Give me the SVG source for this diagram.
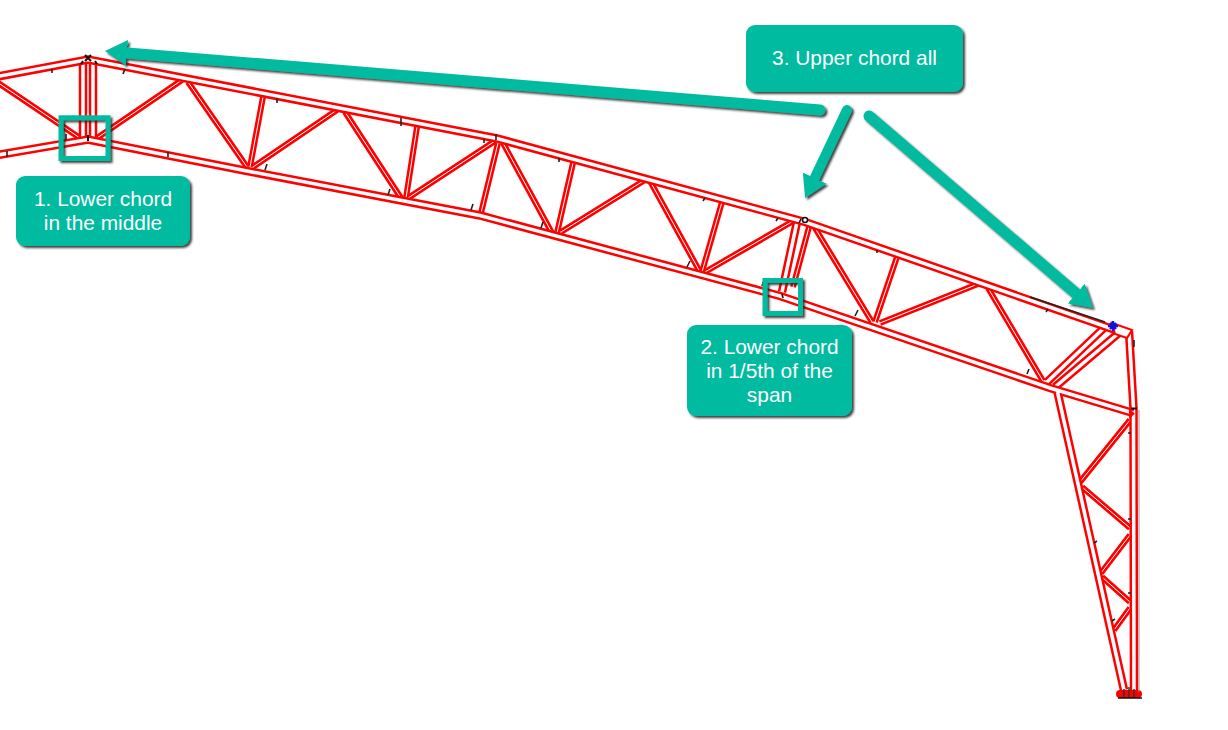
<svg xmlns="http://www.w3.org/2000/svg" xmlns:xlink="http://www.w3.org/1999/xlink" width="1228" height="730" viewBox="0 0 1228 730">
<style>
.box{fill:#00BBA0;filter:url(#sh)}
.lbl{font-family:"Liberation Sans",Arial,sans-serif;font-size:20.900px;fill:#fff;text-anchor:middle}
.frame{fill:none;stroke:#00BBA0;stroke-width:5;filter:url(#sh)}
.arrow{fill:none;stroke:#00BBA0;stroke-width:11;stroke-linecap:round;filter:url(#shl)}
.t{fill:none;stroke:#222;stroke-width:1.600}
</style>
<defs>
<filter id="sh" x="-20%" y="-20%" width="140%" height="140%" filterUnits="objectBoundingBox"><feDropShadow dx="2" dy="2" stdDeviation="1" flood-color="#222" flood-opacity=".85"/></filter>
<filter id="shl" filterUnits="userSpaceOnUse" x="0" y="0" width="1228" height="730"><feDropShadow dx="2" dy="2" stdDeviation="1" flood-color="#222" flood-opacity=".85"/></filter>
<marker id="head" markerUnits="userSpaceOnUse" viewBox="0 0 22 26" refX="6" refY="13" markerWidth="22" markerHeight="26" orient="auto"><path d="M0,0 L22,13 L0,26 Z" fill="#00BBA0"/></marker>
<g id="chords" fill="none">
<path d="M-5,77 L88,59.500 L497,138.500 L805,222 L1127,334"/>
<path d="M-5,155.500 L88,139.500 L247,171 L480,215.500 L780,296 L1050,388 L1133,413"/>
<path d="M1057.500,392 L1124,690"/>
</g>
<g id="webs" fill="none">
<path d="M-3,82 L80,138"/>
<path d="M97,138 L182,80"/>
<path d="M188,82 L247,167"/><path d="M263,97 L250,167"/><path d="M253,167 L337,110"/>
<path d="M345,112 L401,198"/><path d="M417,127 L406,198"/><path d="M408,198 L495,141"/>
<path d="M498,143 L481,213"/><path d="M503,143 L552,233"/><path d="M573,163 L557,233"/><path d="M561,232 L645,180"/>
<path d="M650,181 L700,272"/><path d="M722,202 L702,272"/><path d="M705,272 L795,220"/>
<path d="M809,227 L793,287"/>
<path d="M815,228 L872,322"/><path d="M897,257 L875,322"/><path d="M880,323 L978,284"/><path d="M988,288 L1043,381"/>
<path d="M1130,420 L1080,482"/><path d="M1082,487 L1130,528"/><path d="M1130,535 L1101,573"/><path d="M1102,577 L1130,602"/><path d="M1130,608 L1114,630"/>
</g>
<g id="wide" fill="none">
<path d="M83,63 V137"/><path d="M93,63 V137"/>
<path d="M797,222 L782,292"/>
<path d="M1047,382 L1105,327"/><path d="M1055,387 L1120,332"/>
<path d="M1129,331 L1133.500,408 L1134,692"/>
</g>
</defs>
<rect width="1228" height="730" fill="#fff"/>
<g id="truss">
<use xlink:href="#webs" stroke="#f00" stroke-width="6"/>
<use xlink:href="#webs" stroke="#fff" stroke-width="1"/>
<use xlink:href="#wide" stroke="#f00" stroke-width="8.500"/>
<use xlink:href="#wide" stroke="#fff" stroke-width="3.500"/>
<use xlink:href="#chords" stroke="#f00" stroke-width="8.500"/>
<use xlink:href="#chords" stroke="#fff" stroke-width="3.500"/>
<path d="M1112,323 L1132,330 L1127,338 L1115,334Z" fill="#fff" stroke="#f00" stroke-width="2"/>
<path d="M1135,414 L1129,408 V418Z" fill="#f00"/>
<path d="M1030,297 L1105,322" class="t"/>
<rect x="1116" y="690" width="26" height="8" rx="4" fill="#f00"/>
<path d="M1118,698 H1142" stroke="#111" stroke-width="1.500"/>
<path d="M1124,689 V697 M1129,687 V697 M1134,689 V697" stroke="#333" stroke-width="1.500"/>
<path d="M1139,410 V692" stroke="#999" stroke-width="1"/>
<path d="M1131,408.500 H1137" stroke="#111" stroke-width="2"/>
<path class="t" d="M52,69 V73 M123,74 L125,69 M7,151 V157 M168,152 V157 M265,170 L267,164 M277,98 V103 M66,134 V140 M401,118 V126 M388,195 L390,189 M471,210 L473,204 M496,134 V140 M484,139 V143 M559,158 V162 M541,228 L543,222 M705,198 L703,201 M778,218 L776,221 M687,267 L690,261 M762,286 L764,280 M877,250 V253 M855,316 L858,310 M1048,309 L1046,312 M1027,374 L1029,369 M1134,340 V347 M1128,519 H1131 M1128,433 H1131 M1128,593 H1131 M1097,541 L1094,543 M1115,619 L1112,621"/>
<path d="M85,55 L91,61 M91,55 L85,61 M83,61 L81,64 M95,61 L97,64 M88,135 V141" stroke="#111" stroke-width="2" fill="none"/>
<circle cx="805" cy="220" r="2.500" fill="#fff" stroke="#111" stroke-width="1.500"/>
<path d="M801,219 L799,223 M782,294 L783,298" stroke="#111" stroke-width="1.600"/>
<path d="M1113,321 V331 M1108,326 H1118 M1110,323 L1116,329 M1116,323 L1110,329" stroke="#11d" stroke-width="2.400"/>
</g>
<g id="connectors">
<path class="arrow" marker-end="url(#head)" d="M820,110 L121,52.400"/>
<path class="arrow" style="stroke-width:10" marker-end="url(#head)" d="M847,110 L812,183.600"/>
<path class="arrow" marker-end="url(#head)" d="M869,116 L1080.800,297.500"/>
</g>
<g id="frame-middle"><rect class="frame" x="61" y="117.800" width="47" height="40.700"/></g>
<g id="frame-fifth"><rect class="frame" x="765" y="280.500" width="35.500" height="33"/></g>
<g id="callout-1"><rect class="box" x="16" y="176" width="174" height="70" rx="9"/><text class="lbl" x="103" y="206">1. Lower chord</text><text class="lbl" x="103" y="230">in the middle</text></g>
<g id="callout-2"><rect class="box" x="687" y="325" width="165" height="91" rx="9"/><text class="lbl" x="769.500" y="354">2. Lower chord</text><text class="lbl" x="769.500" y="378">in 1/5th of the</text><text class="lbl" x="769.500" y="402">span</text></g>
<g id="callout-3"><rect class="box" x="746" y="25" width="217" height="67" rx="9"/><text class="lbl" x="854.500" y="65">3. Upper chord all</text></g>
</svg>
